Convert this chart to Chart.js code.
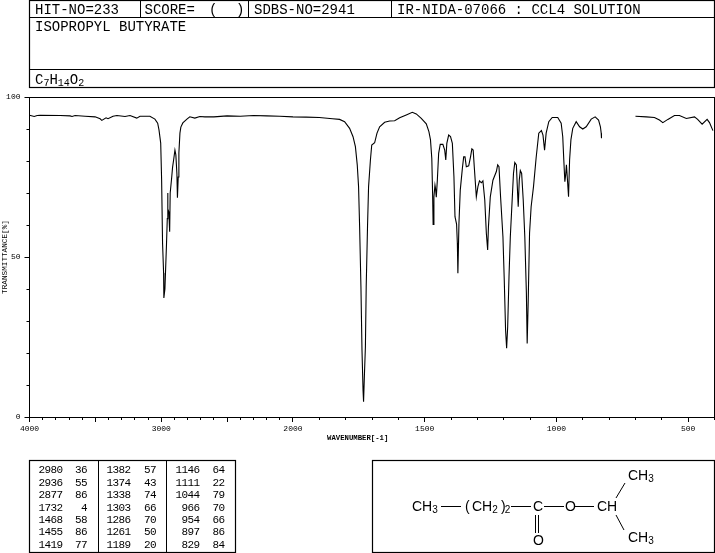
<!DOCTYPE html>
<html>
<head>
<meta charset="utf-8">
<title>Isopropyl butyrate IR spectrum</title>
<script src="https://cdn.jsdelivr.net/npm/chart.js@4"></script>
<style>
  html, body { margin: 0; padding: 0; background: #fff; }
  #wrap { position: relative; width: 715px; height: 553px; overflow: hidden; }
  #ir-chart, #overlay { position: absolute; left: 0; top: 0; }
  #overlay text { font-family: "Liberation Mono", monospace; fill: #000; }
  #overlay .sans text { font-family: "Liberation Sans", sans-serif; }
  #overlay line, #overlay rect { stroke: #000; fill: none; }
</style>
</head>
<body>
<div id="wrap">
  <canvas id="ir-chart" width="715" height="553"></canvas>
  <svg id="overlay" width="715" height="553" xmlns="http://www.w3.org/2000/svg">
    <!-- header boxes -->
    <rect x="29.5" y="0.5" width="685" height="87" stroke-width="1.2"></rect>
    <line x1="29" y1="17.5" x2="715" y2="17.5"></line>
    <line x1="29" y1="69.5" x2="715" y2="69.5"></line>
    <line x1="140.5" y1="0" x2="140.5" y2="17"></line>
    <line x1="248.5" y1="0" x2="248.5" y2="17"></line>
    <line x1="391.5" y1="0" x2="391.5" y2="17"></line>
    <g font-size="14">
      <text x="35" y="14">HIT-NO=233</text>
      <text x="144.5" y="14">SCORE=</text>
      <text x="209" y="14">(</text>
      <text x="236" y="14">)</text>
      <text x="254" y="14">SDBS-NO=2941</text>
      <text x="397" y="14">IR-NIDA-07066 : CCL4 SOLUTION</text>
      <text x="35" y="31">ISOPROPYL BUTYRATE</text>
      <text x="35" y="84">C<tspan font-size="10" dy="2">7</tspan><tspan dy="-2">H</tspan><tspan font-size="10" dy="2">14</tspan><tspan dy="-2">O</tspan><tspan font-size="10" dy="2">2</tspan></text>
    </g>
    <text x="327" y="440" font-size="7.3" font-weight="bold">WAVENUMBER[-1]</text>
    <!-- peak table -->
    <rect x="29.5" y="460.5" width="206" height="92" stroke-width="1.2"></rect>
    <line x1="98.5" y1="460" x2="98.5" y2="552"></line>
    <line x1="166.5" y1="460" x2="166.5" y2="552"></line>
    <g id="peak-table" font-size="11" letter-spacing="-0.6"></g>
    <!-- structure -->
    <rect x="372.5" y="460.5" width="342" height="92" stroke-width="1.2"></rect>
    <g class="sans" font-size="14">
      <text x="412" y="511">CH<tspan font-size="10" dy="2">3</tspan></text>
      <text x="465" y="511">(</text>
      <text x="472" y="511">CH<tspan font-size="10" dy="2">2</tspan></text>
      <text x="501" y="511">)<tspan font-size="10" dy="2" dx="-1">2</tspan></text>
      <text x="533" y="511">C</text>
      <text x="565" y="511">O</text>
      <text x="597" y="511">CH</text>
      <text x="628" y="480">CH<tspan font-size="10" dy="2">3</tspan></text>
      <text x="628" y="542">CH<tspan font-size="10" dy="2">3</tspan></text>
      <text x="533" y="545">O</text>
    </g>
    <line x1="441" y1="506.5" x2="461" y2="506.5"></line>
    <line x1="511" y1="506.5" x2="531" y2="506.5"></line>
    <line x1="544" y1="506.5" x2="564" y2="506.5"></line>
    <line x1="575" y1="506.5" x2="594" y2="506.5"></line>
    <line x1="616" y1="498" x2="625" y2="483"></line>
    <line x1="616" y1="515" x2="624" y2="530"></line>
    <line x1="535.5" y1="515" x2="535.5" y2="533"></line>
    <line x1="538.5" y1="515" x2="538.5" y2="533"></line>
  </svg>
</div>
<script>
// spectrum, first stretch down to the gap near 800 cm-1
const wavenumbersA = [4000,3964,3942,3919,3767,3692,3677,3654,3578,3502,3464,3451,3419,3404,3366,3336,3275,3237,3186,3161,3086,3048,3027,3017,3004,2997,2990,2982,2980,2972,2966,2960,2954,2951,2949,2942,2936,2932,2921,2914,2906,2896,2889,2881,2877,2871,2866,2858,2851,2836,2805,2783,2745,2707,2669,2600,2500,2400,2300,2200,2100,2000,1950,1900,1850,1823,1804,1785,1772,1763,1756,1751,1747,1742,1738,1734,1732,1729,1725,1722,1717,1713,1706,1701,1690,1681,1671,1652,1633,1614,1595,1570,1547,1532,1513,1494,1484,1478,1473,1470,1468,1465,1461,1459,1456,1452,1447,1441,1431,1424,1420,1416,1409,1402,1395,1389,1385,1379,1376,1374,1370,1365,1357,1352,1347,1342,1333,1326,1321,1316,1311,1304,1298,1292,1285,1279,1272,1266,1261,1258,1251,1241,1228,1223,1218,1212,1203,1198,1193,1189,1185,1180,1175,1168,1163,1158,1152,1149,1145,1141,1137,1132,1126,1120,1114,1111,1107,1102,1096,1087,1077,1067,1057,1051,1045,1039,1029,1016,995,982,976,972,968,965,962,958,954,950,945,938,925,912,900,887,868,853,840,833,830,829];
const transmittanceA = [94.3,93.9,94.2,94.3,94.2,94.1,93.9,94.2,94,93.8,93.2,92.7,93.5,93.2,94,94.2,93.9,94.2,93.4,94,94,93.1,91.8,89.7,85.6,74,54.4,45,37.2,40,47,54,62,70,65,64,57.9,70,74.7,78,80.3,83.4,81.9,76,68.5,75,82.5,88.7,90.6,91.9,93.1,93.8,93.4,93.9,93.8,93.8,94.1,94,94.2,94.1,94,93.8,93.7,93.6,93.2,93,92.3,90.2,87.6,84.5,78.8,72,59.5,40.7,20.9,8.4,4.8,12.6,22,40.7,59.5,72,80.3,85,85.7,88.7,90.7,92.1,92.5,92.6,93.5,94.4,95.2,94.7,93.3,91.6,89.2,86.6,80.8,69.9,60.2,68.8,72.5,71.5,68.7,74,82.4,85.2,85.2,83.4,80.3,85.5,88.1,87.6,85.5,75.1,62.6,60.3,54.3,44.9,60.5,70.9,77.7,81.3,81.3,78.2,78.5,81.3,83.8,83.4,77.2,68.8,72,73.8,73.2,73.8,67.8,57.4,52.2,59.5,68.8,74,76.7,78.8,78.2,68.8,56.3,42.8,27.2,21.5,28.2,43.8,56.3,67.8,76.1,79.5,78.8,73,65.7,74,77,76.1,67.8,56.3,38.7,23,36.6,57.4,65.7,72,81,88.7,89.5,88.1,83.4,88.7,92.3,93.6,93.6,91.8,87.6,80.3,73.5,75.6,78.8,74,68.8,80.3,86.6,90.2,92.3,90.7,90,90.7,93.1,93.8,92.8,90.7,88.7,87.1];

// second stretch, after the gap
const wavenumbersB = [700,659,628,609,596,577,552,533,507,476,464,447,428,419,406];
const transmittanceB = [94,93.8,93.6,92.8,92,93,94.2,94.2,93.3,93.8,93,91.5,93,92,89.5];

const xTicks = [4000,3900,3800,3700,3600,3500,3400,3300,3200,3100,3000,2900,2800,2700,2600,2500,2400,2300,2200,2100,2000,1900,1800,1700,1600,1500,1400,1300,1200,1100,1000,900,800,700,600,500,400];
const xLongTicks = [4000,3500,3000,2500,2000,1500,1000,500];
const xLabels = [4000,3000,2000,1500,1000,500];
const yTicks = [0,10,20,30,40,50,60,70,80,90,100];
const yLabels = [0,50,100];

// peak table, three columns
const peakWavenumbers = [
  [2980,2936,2877,1732,1468,1455,1419],
  [1382,1374,1338,1303,1286,1261,1189],
  [1146,1111,1044,966,954,897,829]
];
const peakValues = [
  [36,55,86,4,58,86,77],
  [57,43,74,66,70,50,20],
  [64,22,79,70,66,86,84]
];

// the x axis changes scale at 2000: 4000-2000 is half as wide per cm-1
function toAxis(w) {
  return w >= 2000 ? (4000 - w) / 2 : 1000 + (2000 - w);
}
function toWavenumber(a) {
  return a <= 1000 ? 4000 - a * 2 : 2000 - (a - 1000);
}

const svgNS = "http://www.w3.org/2000/svg";
const peakTable = document.getElementById("peak-table");
const wnRight = [62.5, 130.5, 199.5];
const valRight = [87, 156, 224.5];
const rowY = [473, 485.5, 498, 510.5, 523, 535, 547.5];
function addCell(str, x, y) {
  const t = document.createElementNS(svgNS, "text");
  t.setAttribute("x", x);
  t.setAttribute("y", y);
  t.setAttribute("text-anchor", "end");
  t.textContent = str;
  peakTable.appendChild(t);
}
peakWavenumbers.forEach(function (col, c) {
  col.forEach(function (w, r) {
    addCell(String(w), wnRight[c], rowY[r]);
    addCell(String(peakValues[c][r]), valRight[c], rowY[r]);
  });
});

// frame and the short ticks that Chart.js can't size per tick
const frameAndMinorTicks = {
  id: "frameAndMinorTicks",
  afterDraw: function (chart) {
    const ctx = chart.ctx, a = chart.chartArea;
    const sx = chart.scales.x, sy = chart.scales.y;
    ctx.save();
    ctx.strokeStyle = "#000";
    ctx.lineWidth = 1;
    ctx.strokeRect(Math.floor(a.left) + 0.5, Math.floor(a.top) + 0.5, 685, Math.round(a.bottom - a.top));
    ctx.beginPath();
    xTicks.forEach(function (w) {
      if (xLongTicks.indexOf(w) >= 0) return;
      const px = Math.floor(sx.getPixelForValue(toAxis(w))) + 0.5;
      ctx.moveTo(px, a.bottom);
      ctx.lineTo(px, a.bottom + 3);
    });
    yTicks.forEach(function (v) {
      if (yLabels.indexOf(v) >= 0) return;
      const py = Math.round(sy.getPixelForValue(v)) + 0.5;
      ctx.moveTo(a.left, py);
      ctx.lineTo(a.left - 3, py);
    });
    ctx.stroke();
    ctx.restore();
  }
};

const tickFont = { family: "'Liberation Mono', monospace", size: 8 };

new Chart(document.getElementById("ir-chart"), {
  type: "line",
  data: {
    datasets: [
      {
        data: wavenumbersA.map(function (w, i) { return { x: toAxis(w), y: transmittanceA[i] }; }),
        borderColor: "#000", borderWidth: 1.1, pointRadius: 0, tension: 0, fill: false
      },
      {
        data: wavenumbersB.map(function (w, i) { return { x: toAxis(w), y: transmittanceB[i] }; }),
        borderColor: "#000", borderWidth: 1.1, pointRadius: 0, tension: 0, fill: false
      }
    ]
  },
  plugins: [frameAndMinorTicks],
  options: {
    responsive: false,
    animation: false,
    layout: { padding: { top: 97, bottom: 110, left: 0, right: 0.5 } },
    plugins: { legend: { display: false }, title: { display: false }, tooltip: { enabled: false } },
    scales: {
      x: {
        type: "linear",
        min: 0,
        max: toAxis(400),
        afterBuildTicks: function (scale) {
          scale.ticks = xTicks.map(function (w) { return { value: toAxis(w) }; });
        },
        afterFit: function (scale) {
          scale.height = 26;
          scale.paddingLeft = 0;
          scale.paddingRight = 0;
        },
        grid: {
          drawOnChartArea: false,
          tickLength: 5,
          tickColor: function (c) {
            return xLongTicks.indexOf(toWavenumber(c.tick.value)) >= 0 ? "#000" : "rgba(0,0,0,0)";
          }
        },
        border: { display: false },
        ticks: {
          autoSkip: false,
          maxRotation: 0,
          padding: 2,
          color: "#000",
          font: tickFont,
          callback: function (v) {
            const w = toWavenumber(v);
            return xLabels.indexOf(w) >= 0 ? String(w) : "";
          }
        }
      },
      y: {
        type: "linear",
        min: 0,
        max: 100,
        afterBuildTicks: function (scale) {
          scale.ticks = yTicks.map(function (v) { return { value: v }; });
        },
        afterFit: function (scale) { scale.width = 29.5; },
        grid: {
          drawOnChartArea: false,
          tickLength: 5,
          tickColor: function (c) {
            return yLabels.indexOf(c.tick.value) >= 0 ? "#000" : "rgba(0,0,0,0)";
          }
        },
        border: { display: false },
        title: {
          display: true,
          text: "TRANSMITTANCE[%]",
          color: "#000",
          padding: 0,
          font: { family: "'Liberation Mono', monospace", size: 7.7 }
        },
        ticks: {
          autoSkip: false,
          padding: 4,
          color: "#000",
          font: tickFont,
          callback: function (v) { return yLabels.indexOf(v) >= 0 ? String(v) : ""; }
        }
      }
    }
  }
});
</script>
</body>
</html>
